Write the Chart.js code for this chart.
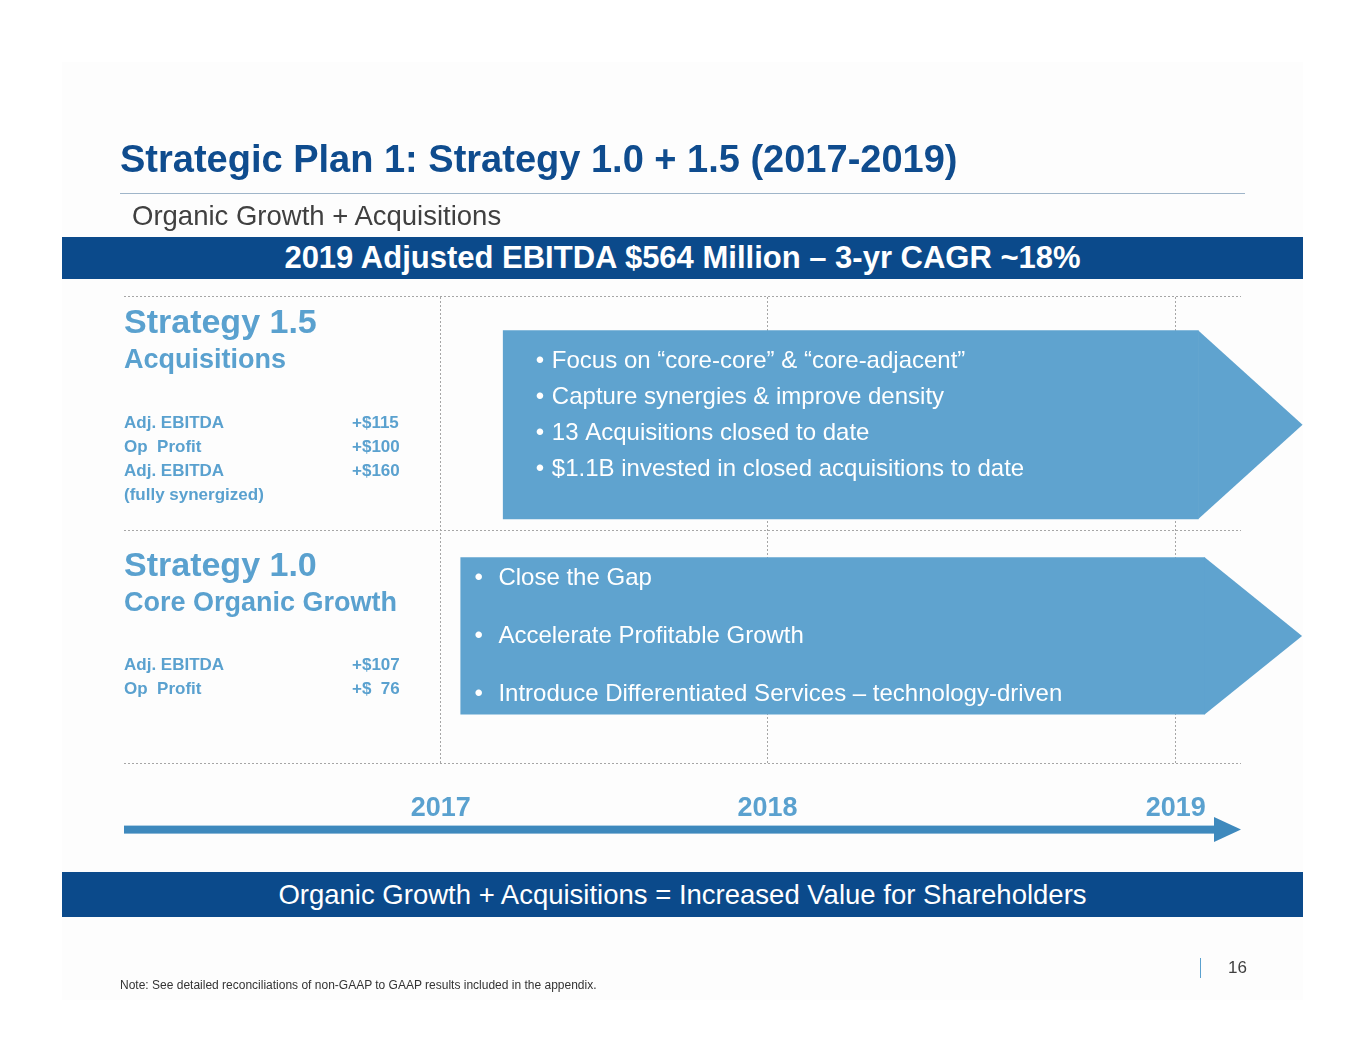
<!DOCTYPE html>
<html>
<head>
<meta charset="utf-8">
<title>Strategic Plan 1: Strategy 1.0 + 1.5</title>
<script src="https://cdn.jsdelivr.net/npm/chart.js@4.4.1/dist/chart.umd.min.js"></script>
<style>
  body { margin: 0; background: #fff; font-family: "Liberation Sans", Arial, sans-serif; }
  #slide { position: relative; width: 1365px; height: 1055px; overflow: hidden; }
  .bg { position: absolute; left: 62px; top: 62px; width: 1241px; height: 938px; background: #fdfdfd; }
  #timeline { position: absolute; left: 0; top: 0; }
  .title { position: absolute; left: 120px; top: 137px; font-size: 38px; line-height: 44px; font-weight: bold; color: #0f4c8e; white-space: nowrap; }
  .rule { position: absolute; left: 120px; top: 193px; width: 1125px; height: 1px; background: #9fb5c9; }
  .subtitle { position: absolute; left: 132px; top: 201px; font-size: 27.5px; line-height: 30px; color: #404040; white-space: nowrap; }
  .banner { position: absolute; left: 62px; width: 1241px; background: #0b4a8b; color: #fff; text-align: center; white-space: nowrap; }
  .banner.top { top: 237px; height: 42px; line-height: 42px; font-size: 31px; font-weight: bold; }
  .banner.bottom { top: 872px; height: 45px; line-height: 46px; font-size: 27.5px; }
  .pageno { position: absolute; left: 1228px; top: 958px; font-size: 17px; line-height: 20px; color: #404040; }
  .pagebar { position: absolute; left: 1200px; top: 958px; width: 1px; height: 20px; background: #5aa1cf; }
  .note { position: absolute; left: 120px; top: 978px; font-size: 12px; line-height: 14px; color: #333; white-space: nowrap; }
</style>
</head>
<body>
<div id="slide">
  <div class="bg"></div>
  <canvas id="timeline" width="1365" height="1055"></canvas>
  <div class="title">Strategic Plan 1: Strategy 1.0 + 1.5 (2017-2019)</div>
  <div class="rule"></div>
  <div class="subtitle">Organic Growth + Acquisitions</div>
  <div class="banner top">2019 Adjusted EBITDA $564 Million – 3-yr CAGR ~18%</div>
  <div class="banner bottom">Organic Growth + Acquisitions = Increased Value for Shareholders</div>
  <div class="pagebar"></div>
  <div class="pageno">16</div>
  <div class="note">Note: See detailed reconciliations of non-GAAP to GAAP results included in the appendix.</div>
</div>
<script>
// data
const strategies = ['Strategy 1.5', 'Strategy 1.0'];
const focusAreas = ['Acquisitions', 'Core Organic Growth'];
const years = ['2017', '2018', '2019'];
const yearMarks = [2017, 2018, 2019.25];
const arrowStart = [2017.19, 2017.06];
const arrowEnd = [2019.32, 2019.34];
const metricNames = [
  ['Adj. EBITDA', 'Op  Profit', 'Adj. EBITDA', '(fully synergized)'],
  ['Adj. EBITDA', 'Op  Profit']
];
const metricValues = [
  ['+$115', '+$100', '+$160', ''],
  ['+$107', '+$  76']
];
const initiatives = [
  ['Focus on “core-core” & “core-adjacent”', 'Capture synergies & improve density',
   '13 Acquisitions closed to date', '$1.1B invested in closed acquisitions to date'],
  ['Close the Gap', 'Accelerate Profitable Growth',
   'Introduce Differentiated Services – technology-driven']
];

const family = '"Liberation Sans", Arial, sans-serif';
const lightBlue = '#5aa1cf';
const arrowBlue = '#5fa3cf';

// arrow heads, bullet text, left column and the bottom timeline arrow
const timelineDecor = {
  id: 'timelineDecor',
  afterDatasetsUpdate(chart) {
    // the slide's arrows sit a little off the row centres
    chart.data.datasets.forEach((ds, di) => {
      chart.getDatasetMeta(di).data.forEach(bar => { bar.y += ds.nudge || 0; });
    });
  },
  afterDatasetsDraw(chart) {
    const ctx = chart.ctx;
    chart.data.datasets.forEach((ds, di) => {
      const meta = chart.getDatasetMeta(di);
      meta.data.forEach((bar, i) => {
        if (!ds.data[i]) return;
        const p = bar.getProps(['x', 'y', 'base', 'height'], true);
        const top = p.y - p.height / 2;
        const bottom = p.y + p.height / 2;
        ctx.save();
        ctx.fillStyle = ds.backgroundColor;
        ctx.beginPath();
        ctx.moveTo(p.x - 0.5, top);
        ctx.lineTo(p.x + ds.headLength, p.y);
        ctx.lineTo(p.x - 0.5, bottom);
        ctx.closePath();
        ctx.fill();

        ctx.fillStyle = '#ffffff';
        ctx.font = '24px ' + family;
        ctx.textBaseline = 'middle';
        initiatives[i].forEach((t, k) => {
          const ty = top + ds.textTop + k * ds.lineGap;
          ctx.fillText('•', p.base + ds.bulletX, ty);
          ctx.fillText(t, p.base + ds.textX, ty);
        });
        ctx.restore();
      });
    });
  },
  afterDraw(chart) {
    const ctx = chart.ctx;
    const y = chart.scales.y;
    const area = chart.chartArea;
    const band = (y.bottom - y.top) / strategies.length;
    const leftTop = [27, 36];

    ctx.save();
    ctx.fillStyle = lightBlue;
    ctx.textBaseline = 'middle';
    strategies.forEach((name, i) => {
      const y0 = y.getPixelForValue(i) - band / 2 + leftTop[i];
      ctx.font = 'bold 34px ' + family;
      ctx.fillText(name, area.left, y0);
      ctx.font = 'bold 27px ' + family;
      ctx.fillText(focusAreas[i], area.left, y0 + 37);
      ctx.font = 'bold 17px ' + family;
      metricNames[i].forEach((m, k) => {
        const my = y0 + 99 + k * 24;
        ctx.fillText(m, area.left, my);
        ctx.fillText(metricValues[i][k], area.left + 228, my);
      });
    });

    // timeline arrow under the year labels
    const ly = area.bottom + 66;
    const tip = area.right;
    ctx.fillStyle = '#3e89bd';
    ctx.fillRect(area.left, ly - 4, tip - 26 - area.left, 8);
    ctx.beginPath();
    ctx.moveTo(tip - 27, ly - 12.5);
    ctx.lineTo(tip, ly);
    ctx.lineTo(tip - 27, ly + 12.5);
    ctx.closePath();
    ctx.fill();
    ctx.restore();
  }
};

new Chart(document.getElementById('timeline'), {
  type: 'bar',
  data: {
    labels: strategies,
    datasets: [
      {
        data: [[arrowStart[0], arrowEnd[0]], null],
        backgroundColor: arrowBlue,
        barPercentage: 0.81,
        categoryPercentage: 1,
        grouped: false,
        nudge: 11,
        headLength: 104, textTop: 31, lineGap: 36, bulletX: 33, textX: 49
      },
      {
        data: [null, [arrowStart[1], arrowEnd[1]]],
        backgroundColor: arrowBlue,
        barPercentage: 0.674,
        categoryPercentage: 1,
        grouped: false,
        nudge: -11,
        headLength: 97, textTop: 21, lineGap: 58, bulletX: 14, textX: 38
      }
    ]
  },
  options: {
    indexAxis: 'y',
    responsive: false,
    animation: false,
    layout: { padding: { left: 124, right: 124, top: 297, bottom: 201 } },
    plugins: {
      legend: { display: false },
      tooltip: { enabled: false }
    },
    scales: {
      x: {
        type: 'linear',
        min: 2016.03,
        max: 2019.45,
        afterBuildTicks: (scale) => {
          scale.ticks = yearMarks.map(v => ({ value: v }));
        },
        grid: { color: '#a6a6a6', drawTicks: false, lineWidth: 1 },
        border: { display: false, dash: [2, 2] },
        ticks: {
          padding: 29,
          color: lightBlue,
          autoSkip: false,
          maxRotation: 0,
          font: { family: family, size: 27, weight: 'bold' },
          callback: (value, index) => years[index]
        }
      },
      y: {
        grid: { color: '#a6a6a6', drawTicks: false, lineWidth: 1 },
        border: { display: false, dash: [2, 2] },
        ticks: { display: false }
      }
    }
  },
  plugins: [timelineDecor]
});
</script>
</body>
</html>
